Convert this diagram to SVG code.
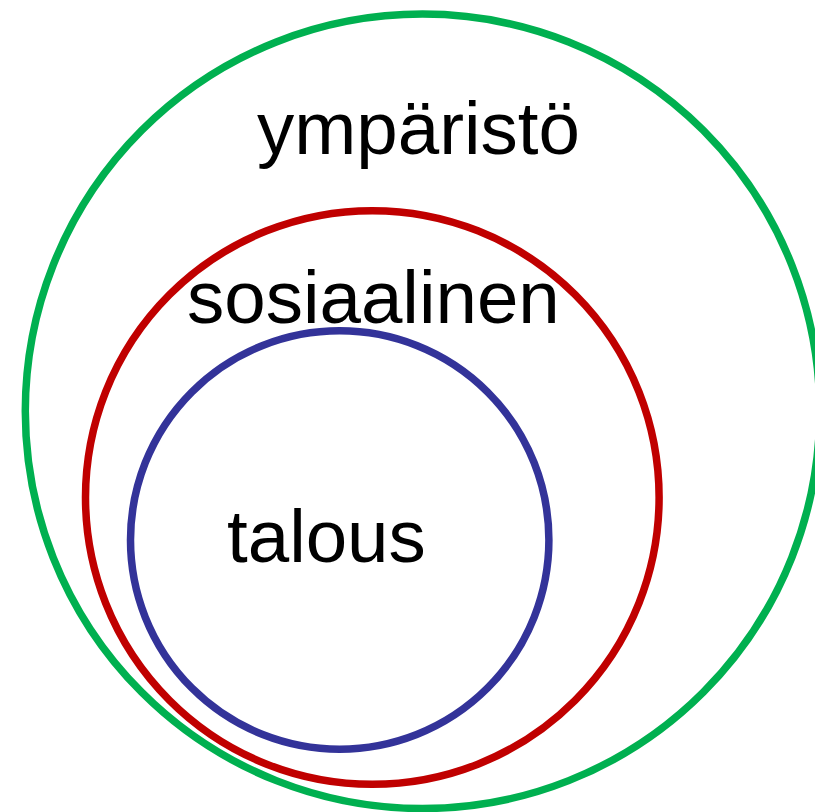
<svg xmlns="http://www.w3.org/2000/svg" width="815" height="812" viewBox="0 0 815 812">
<style>
.ring{fill:none;stroke-width:7.5}
.lbl{font-family:"Liberation Sans",Arial,sans-serif;font-size:74.5px;fill:#000}
</style>
<rect width="815" height="812" fill="#fff"/>
<g id="ymparisto">
<circle class="ring" cx="422.5" cy="411.3" r="397.2" stroke="#00B050"/>
<text class="lbl" x="257" y="153.5">ympäristö</text>
</g>
<g id="sosiaalinen">
<circle class="ring" cx="372.3" cy="497.5" r="286.8" stroke="#C00000"/>
<text class="lbl" x="187" y="323.3">sosiaalinen</text>
</g>
<g id="talous">
<circle class="ring" cx="339.7" cy="540" r="209.2" stroke="#333399"/>
<text class="lbl" x="227" y="561.7">talous</text>
</g>
<g id="connectors"/>
</svg>
